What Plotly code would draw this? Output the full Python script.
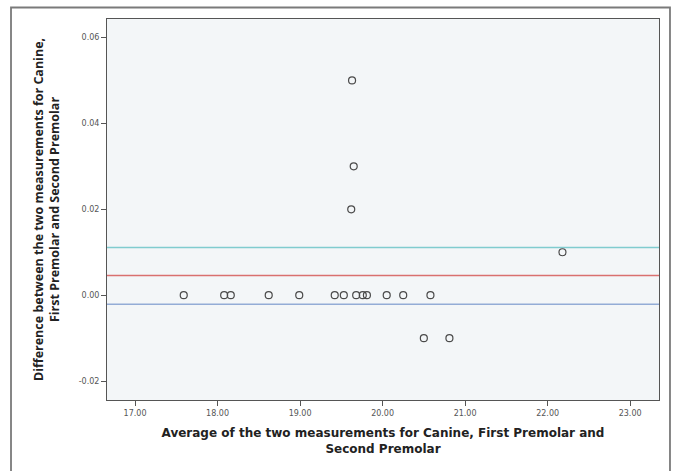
import plotly.graph_objects as go

# Data (Bland-Altman style plot)
avg_values = [17.59, 18.08, 18.16, 18.62, 18.99, 19.42, 19.53, 19.68, 19.76, 19.81,
              20.05, 20.25, 20.58, 20.50, 20.81, 19.63, 19.65, 19.62, 22.18]
diff_values = [0.00, 0.00, 0.00, 0.00, 0.00, 0.00, 0.00, 0.00, 0.00, 0.00,
               0.00, 0.00, 0.00, -0.01, -0.01, 0.05, 0.03, 0.02, 0.01]

ref_line_values = [0.0111, 0.0046, -0.0021]
ref_line_colors = ["#80cccf", "#d9706f", "#93acd6"]

x_ticks = [17, 18, 19, 20, 21, 22, 23]
y_ticks = [-0.02, 0.00, 0.02, 0.04, 0.06]

fig = go.Figure()

fig.add_trace(go.Scatter(
    x=avg_values, y=diff_values, mode="markers",
    marker=dict(symbol="circle-open", size=7, color="#4a4a4a", line=dict(width=1.2)),
    showlegend=False, hoverinfo="x+y"))

for val, col in zip(ref_line_values, ref_line_colors):
    fig.add_shape(type="line", xref="paper", x0=0, x1=1, yref="y", y0=val, y1=val,
                  line=dict(color=col, width=1.5), layer="below")

# outer frame
fig.add_shape(type="rect", xref="paper", yref="paper",
              x0=-0.1739, x1=1.0199, y0=-0.2, y1=1.0302,
              line=dict(color="#7a7a7a", width=1.8))

fig.update_layout(
    width=673, height=471,
    margin=dict(l=107, r=14, t=19, b=71),
    paper_bgcolor="white", plot_bgcolor="#f3f6f8",
    font=dict(family="Liberation Sans, Arial, sans-serif", color="#333"),
    xaxis=dict(range=[16.66, 23.35], tickvals=x_ticks,
               ticktext=[f"{v:.2f}" for v in x_ticks],
               ticks="outside", ticklen=5, tickcolor="#555",
               tickfont=dict(family="DejaVu Sans", size=8, color="#555"),
               showgrid=False, zeroline=False,
               showline=True, linecolor="#555", linewidth=1, mirror=True,
               title=dict(text="<b>Average of the two measurements for Canine, First Premolar and<br>Second Premolar</b>",
                          font=dict(family="DejaVu Sans", size=12, color="#222"), standoff=12)),
    yaxis=dict(range=[-0.0244, 0.0643], tickvals=y_ticks,
               ticktext=[f"{v:.2f}" for v in y_ticks],
               ticks="outside", ticklen=5, tickcolor="#555",
               tickfont=dict(family="DejaVu Sans", size=8, color="#555"),
               showgrid=False, zeroline=False,
               showline=True, linecolor="#555", linewidth=1, mirror=True,
               title=dict(text="<b>Difference between the two measurements for Canine,<br>First Premolar and Second Premolar</b>",
                          font=dict(family="Open Sans", size=12.5, color="#222"), standoff=16)),
)

fig.write_html("out.html", config={"displayModeBar": False},
               post_script="document.body.style.margin='0';document.body.style.overflow='hidden';")
